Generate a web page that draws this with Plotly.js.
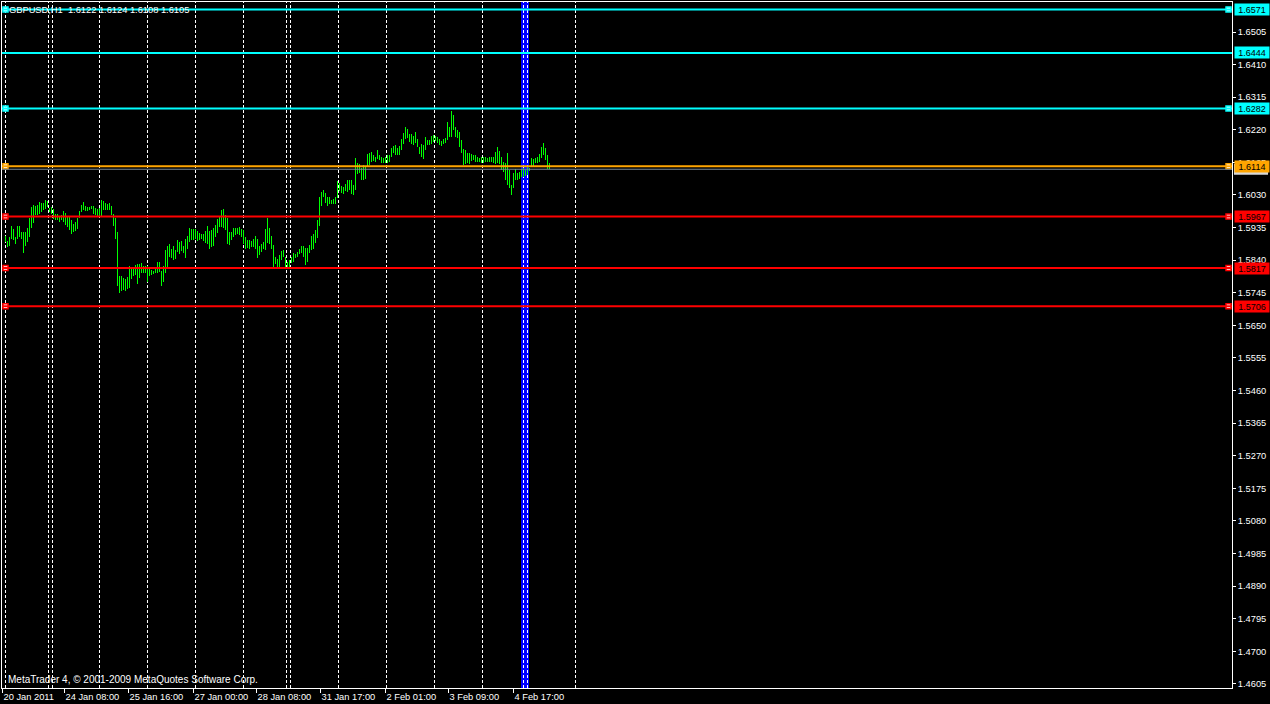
<!DOCTYPE html>
<html>
<head>
<meta charset="utf-8">
<script src="https://cdn.plot.ly/plotly-3.0.1.min.js"></script>
<style>
html,body{margin:0;padding:0;background:#000;}
#chart{width:1270px;height:704px;}
</style>
</head>
<body>
<div id="chart"></div>
<script>
// ---- Data: GBPUSD H1 bars (high / low) ----
const highs = [
1.5911,1.5896,1.5908,1.5939,1.5932,1.5907,1.5939,1.5941,1.5923,1.5923,
1.5921,1.5934,1.5962,1.5995,1.6001,1.5999,1.6001,1.6009,1.6006,1.6007,
1.6015,1.6012,1.5993,1.5995,1.5989,1.5974,1.5974,1.5968,1.5971,1.5983,
1.5977,1.5970,1.5965,1.5957,1.5945,1.5951,1.5964,1.5983,1.6001,1.6009,
1.5999,1.5996,1.5995,1.5998,1.5997,1.5991,1.5989,1.5993,1.6015,1.6012,
1.6006,1.6004,1.6006,1.5998,1.5976,1.5964,1.5923,1.5795,1.5794,1.5787,
1.5784,1.5791,1.5823,1.5821,1.5819,1.5826,1.5828,1.5830,1.5832,1.5824,
1.5824,1.5823,1.5813,1.5811,1.5808,1.5819,1.5834,1.5834,1.5808,1.5823,
1.5869,1.5882,1.5887,1.5874,1.5881,1.5869,1.5899,1.5892,1.5896,1.5882,
1.5903,1.5910,1.5933,1.5931,1.5931,1.5931,1.5925,1.5920,1.5917,1.5916,
1.5925,1.5939,1.5925,1.5928,1.5935,1.5942,1.5960,1.5969,1.5986,1.5989,
1.5972,1.5964,1.5923,1.5921,1.5935,1.5933,1.5935,1.5937,1.5931,1.5928,
1.5907,1.5900,1.5899,1.5896,1.5902,1.5910,1.5902,1.5881,1.5886,1.5892,
1.5931,1.5964,1.5935,1.5911,1.5884,1.5848,1.5842,1.5855,1.5867,1.5869,
1.5850,1.5835,1.5840,1.5850,1.5860,1.5858,1.5865,1.5874,1.5881,1.5881,
1.5876,1.5876,1.5884,1.5910,1.5916,1.5928,1.5957,1.6023,1.6040,1.6044,
1.6035,1.6023,1.6023,1.6015,1.6017,1.6023,1.6071,1.6064,1.6056,1.6054,
1.6061,1.6075,1.6075,1.6074,1.6059,1.6137,1.6122,1.6120,1.6108,1.6117,
1.6112,1.6149,1.6153,1.6156,1.6146,1.6142,1.6161,1.6146,1.6140,1.6137,
1.6140,1.6146,1.6148,1.6166,1.6173,1.6176,1.6166,1.6173,1.6192,1.6210,
1.6227,1.6221,1.6207,1.6208,1.6202,1.6214,1.6192,1.6171,1.6179,1.6176,
1.6200,1.6190,1.6190,1.6202,1.6205,1.6202,1.6198,1.6192,1.6188,1.6192,
1.6195,1.6244,1.6229,1.6275,1.6263,1.6227,1.6219,1.6214,1.6190,1.6163,
1.6161,1.6151,1.6153,1.6149,1.6146,1.6148,1.6140,1.6137,1.6142,1.6140,
1.6140,1.6137,1.6140,1.6142,1.6142,1.6156,1.6171,1.6159,1.6140,1.6127,
1.6122,1.6151,1.6103,1.6059,1.6095,1.6106,1.6095,1.6098,1.6105,1.6108,
1.6103,1.6112,1.6108,1.6137,1.6134,1.6137,1.6142,1.6149,1.6169,1.6182,
1.6166,1.6146,1.6124
];
const lows = [
1.5894,1.5879,1.5882,1.5902,1.5899,1.5886,1.5902,1.5907,1.5903,1.5862,
1.5882,1.5892,1.5908,1.5933,1.5949,1.5972,1.5972,1.5975,1.5979,1.5986,
1.5989,1.5996,1.5979,1.5976,1.5959,1.5957,1.5958,1.5952,1.5956,1.5952,
1.5942,1.5937,1.5929,1.5916,1.5923,1.5925,1.5931,1.5962,1.5981,1.5985,
1.5983,1.5983,1.5986,1.5989,1.5976,1.5972,1.5970,1.5970,1.5969,1.5986,
1.5986,1.5986,1.5986,1.5972,1.5940,1.5903,1.5765,1.5745,1.5750,1.5753,
1.5750,1.5756,1.5758,1.5785,1.5795,1.5797,1.5770,1.5787,1.5804,1.5802,
1.5804,1.5775,1.5795,1.5797,1.5799,1.5804,1.5804,1.5806,1.5765,1.5775,
1.5804,1.5819,1.5850,1.5845,1.5840,1.5843,1.5863,1.5857,1.5868,1.5860,
1.5847,1.5874,1.5892,1.5899,1.5899,1.5903,1.5896,1.5899,1.5901,1.5896,
1.5889,1.5886,1.5874,1.5879,1.5881,1.5908,1.5918,1.5938,1.5938,1.5933,
1.5928,1.5886,1.5884,1.5899,1.5908,1.5913,1.5915,1.5913,1.5908,1.5886,
1.5874,1.5876,1.5874,1.5877,1.5879,1.5874,1.5847,1.5855,1.5863,1.5874,
1.5871,1.5889,1.5886,1.5872,1.5821,1.5829,1.5821,1.5821,1.5840,1.5848,
1.5821,1.5816,1.5821,1.5831,1.5835,1.5845,1.5850,1.5858,1.5862,1.5850,
1.5826,1.5835,1.5860,1.5869,1.5874,1.5891,1.5906,1.5939,1.5998,1.6023,
1.6007,1.5998,1.6005,1.6005,1.6004,1.6004,1.6020,1.6042,1.6037,1.6033,
1.6042,1.6040,1.6044,1.6033,1.6030,1.6044,1.6091,1.6093,1.6075,1.6075,
1.6078,1.6114,1.6117,1.6127,1.6130,1.6127,1.6134,1.6132,1.6124,1.6124,
1.6122,1.6124,1.6127,1.6140,1.6151,1.6146,1.6146,1.6148,1.6161,1.6180,
1.6192,1.6195,1.6185,1.6180,1.6176,1.6182,1.6171,1.6149,1.6140,1.6134,
1.6161,1.6176,1.6177,1.6180,1.6185,1.6188,1.6182,1.6176,1.6173,1.6179,
1.6182,1.6190,1.6200,1.6200,1.6219,1.6200,1.6195,1.6171,1.6151,1.6117,
1.6120,1.6122,1.6120,1.6130,1.6132,1.6127,1.6125,1.6127,1.6124,1.6124,
1.6127,1.6125,1.6126,1.6127,1.6122,1.6120,1.6122,1.6120,1.6103,1.6098,
1.6075,1.6059,1.6049,1.6030,1.6049,1.6073,1.6073,1.6078,1.6081,1.6083,
1.6085,1.6088,1.6101,1.6114,1.6114,1.6122,1.6122,1.6127,1.6137,1.6146,
1.6132,1.6105,1.6105
];

// horizontal price levels
const levelPrices = [1.6571, 1.6444, 1.6282, 1.6114, 1.5967, 1.5817, 1.5706];
const levelColors = ['#00FFFF', '#00FFFF', '#00FFFF', '#FFA500', '#FF0000', '#FF0000', '#FF0000'];
const levelHasEnds = [true, false, true, true, true, true, true];
const bidPrice = 1.6105;

// right axis ticks
const yTickVals = [1.4605, 1.4700, 1.4795, 1.4890, 1.4985, 1.5080, 1.5175, 1.5270, 1.5365, 1.5460,
                   1.5555, 1.5650, 1.5745, 1.5840, 1.5935, 1.6030, 1.6125, 1.6220, 1.6315, 1.6410, 1.6505];

// bottom time axis (bar positions and labels)
const xTickBars = [-1.5, 29.5, 61.5, 94, 125.5, 157.5, 190, 221.5, 254];
const xTickLabels = ['20 Jan 2011', '24 Jan 08:00', '25 Jan 16:00', '27 Jan 00:00', '28 Jan 08:00',
                     '31 Jan 17:00', '2 Feb 01:00', '3 Feb 09:00', '4 Feb 17:00'];

// period separators (day boundaries, in bar units)
const separatorBars = [0, 21.5, 23.5, 47, 71, 95, 119, 140.5, 142.5, 166.5, 190.5, 214.5, 238.5, 259, 261, 285];
// vertical line object (blue)
const vLineBar = 259.75;

const headerText = 'GBPUSD,H1  1.6122 1.6124 1.6108 1.6105';
const footerText = 'MetaTrader 4, © 2001-2009 MetaQuotes Software Corp.';

// ---- Build ----
const xMin = -1.75, xMax = 613.25;
const idx = highs.map((_, i) => i);
const spans = highs.map((h, i) => h - lows[i]);

const FONT = 'Liberation Sans, Arial, sans-serif';

const traces = [{
  type: 'bar', x: idx, y: spans, base: lows, width: 0.5,
  marker: {color: '#00FF00', line: {width: 0}},
  hoverinfo: 'skip', showlegend: false
}];

// end squares for level lines
const sqX = [], sqY = [], sqC = [];
levelPrices.forEach((p, k) => {
  if (levelHasEnds[k]) {
    sqX.push(xMin + 1.75, xMax - 1.75); sqY.push(p, p); sqC.push(levelColors[k], levelColors[k]);
  }
});
traces.push({
  type: 'scatter', mode: 'markers', x: sqX, y: sqY, cliponaxis: false,
  marker: {symbol: 'square', size: 5, color: '#FFFFFF', line: {color: sqC, width: 1.5}},
  hoverinfo: 'skip', showlegend: false
});

const shapes = [];
// blue vertical line (below)
shapes.push({type: 'line', xref: 'x', yref: 'paper', x0: vLineBar, x1: vLineBar, y0: 0, y1: 1,
  line: {color: '#0000FF', width: 8}, layer: 'below'});
// separators
separatorBars.forEach(b => shapes.push({type: 'line', xref: 'x', yref: 'paper', x0: b, x1: b, y0: 0, y1: 1,
  line: {color: '#FFFFFF', width: 1, dash: '3px,2px'}, layer: 'below'}));
// bid line
shapes.push({type: 'line', xref: 'paper', yref: 'y', x0: 0, x1: 1, y0: bidPrice, y1: bidPrice,
  line: {color: '#778899', width: 1}, layer: 'above'});
// bid price marker box on the price scale (mostly hidden behind the orange label)
shapes.push({type: 'rect', xref: 'paper', yref: 'y', ysizemode: 'pixel', yanchor: bidPrice,
  x0: 1.0016, x1: 1.0293, y0: -5.5, y1: 5.5,
  fillcolor: '#D8D8D8', line: {width: 0}, layer: 'above'});
// levels
levelPrices.forEach((p, k) => shapes.push({type: 'line', xref: 'paper', yref: 'y', x0: 0, x1: 1, y0: p, y1: p,
  line: {color: levelColors[k], width: 2}, layer: 'above'}));

const annotations = [];
levelPrices.forEach((p, k) => annotations.push({xref: 'paper', yref: 'y', x: 1, y: p, xanchor: 'left', yanchor: 'middle', xshift: 2,
  text: p.toFixed(4), showarrow: false, bgcolor: levelColors[k], width: 32, height: 9, borderpad: 1,
  font: {family: FONT, size: 9, color: '#000000'}}));
annotations.push({xref: 'paper', yref: 'paper', x: 0, y: 1, xanchor: 'left', yanchor: 'middle', xshift: 5, yshift: -8,
  text: headerText, showarrow: false, font: {family: FONT, size: 9.3, color: '#FFFFFF'}});
annotations.push({xref: 'paper', yref: 'paper', x: 0, y: 0, xanchor: 'left', yanchor: 'middle', xshift: 4, yshift: 9,
  text: footerText, showarrow: false, font: {family: FONT, size: 10, color: '#FFFFFF'}});

const layout = {
  width: 1270, height: 704,
  paper_bgcolor: '#000000', plot_bgcolor: '#000000',
  margin: {l: 2, r: 38, t: 2, b: 16, pad: 0},
  showlegend: false,
  bargap: 0,
  xaxis: {
    range: [xMin, xMax], showgrid: false, zeroline: false,
    showline: true, linecolor: '#FFFFFF', linewidth: 1, mirror: true,
    ticks: 'outside', ticklen: 4, tickcolor: '#FFFFFF', tickwidth: 1,
    tickmode: 'array', tickvals: xTickBars, ticktext: xTickLabels,
    ticklabelposition: 'outside right',
    tickfont: {family: FONT, size: 9.3, color: '#FFFFFF'}, fixedrange: true
  },
  yaxis: {
    side: 'right', range: [1.45930, 1.65925], showgrid: false, zeroline: false,
    showline: true, linecolor: '#FFFFFF', linewidth: 1, mirror: true,
    ticks: 'outside', ticklen: 3, tickcolor: '#FFFFFF', tickwidth: 1,
    tickmode: 'array', tickvals: yTickVals, ticktext: yTickVals.map(v => v.toFixed(4)),
    tickfont: {family: FONT, size: 9.3, color: '#FFFFFF'}, fixedrange: true
  },
  shapes: shapes,
  annotations: annotations
};

Plotly.newPlot('chart', traces, layout, {displayModeBar: false, staticPlot: true});
</script>
</body>
</html>
